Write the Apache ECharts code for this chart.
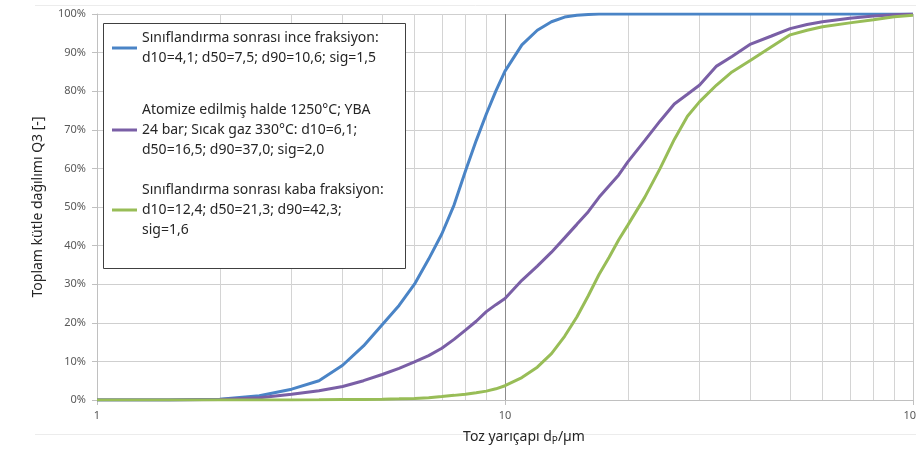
<!DOCTYPE html>
<html><head><meta charset="utf-8">
<script src="https://cdn.jsdelivr.net/npm/echarts@6/dist/echarts.min.js"></script>
<style>html,body{margin:0;padding:0;background:#fff}#c{width:916px;height:450px}</style>
</head><body><div id="c"></div>
<script>
const sizes = [1,1.5,2,2.5,3,3.5,4,4.5,5,5.5,6,6.5,7,7.5,8,8.5,9,9.5,10,11,12,13,14,15,16,17,18,19,20,22,24,26,28,30,33,36,40,45,50,55,60,70,80,90,100];
const fine = [0,0,0.2,1.1,2.8,5.0,9.0,14,19.5,24.5, 30,36.5,43,50.5,59.3,67.2,74.1,80.1,85.2, 92,95.8,98,99.2,99.7,99.9,100,100,100,100, 100,100,100,100,100, 100,100,100,100,100,100,100, 100,100,100,100];
const atomized = [0,0,0.1,0.6,1.5,2.4,3.5,5,6.6,8.2, 9.9,11.5,13.4,15.7,18.1,20.4,22.9,24.7,26.3, 31,34.7,38.3,42,45.5,48.8,52.5,55.5,58.3,61.7, 67.2,72.3,76.7,79.2,81.6, 86.5,89,92.2,94.3,96.2,97.3,98, 98.9,99.5,99.8,100];
const coarse = [0,0,0,0,0,0.05,0.1,0.15,0.2,0.3, 0.4,0.6,0.9,1.2,1.5,1.9,2.3,2.9,3.7, 5.8,8.5,12,16.5,21.5,27,32.5,37,41.5,45.3, 52.5,60,67.5,73.5,77.3, 81.6,85,88,91.5,94.6,95.8,96.7, 97.7,98.5,99.3,99.7];
const minorX = [2,3,4,5,6,7,8,9,20,30,40,50,60,70,80,90];
const yTicks = [0,10,20,30,40,50,60,70,80,90,100];
const names = [
  'Sınıflandırma sonrası ince fraksiyon:\nd10=4,1; d50=7,5; d90=10,6; sig=1,5',
  'Atomize edilmiş halde 1250°C; YBA\n24 bar; Sıcak gaz 330°C: d10=6,1;\nd50=16,5; d90=37,0; sig=2,0',
  'Sınıflandırma sonrası kaba fraksiyon:\nd10=12,4; d50=21,3; d90=42,3;\nsig=1,6'
];
const colors = ['#4a84c6','#7a5fa6','#98bd57'];
const FONT = 'Noto Sans';

const pairs = arr => sizes.map((x,i)=>[x, arr[i]]);
function legendFor(i, top, padTop){
  return {
    data:[names[i]], left:112, top:top, padding:0, orient:'vertical', z:120,
    icon:'rect', itemWidth:25, itemHeight:3, itemGap:0, selectedMode:true,
    textStyle:{fontFamily:FONT, fontSize:14, lineHeight:20, color:'#262626', padding:[padTop,0,0,0]}
  };
}
const chart = echarts.init(document.getElementById('c'), null, {renderer:'canvas'});
chart.setOption({
  animation:false,
  backgroundColor:'#fff',
  grid:{left:97, right:3, top:14, bottom:50, containLabel:false, outerBoundsMode:'none'},
  legend:[legendFor(0,18,20), legendFor(1,80,40), legendFor(2,169,22)],
  graphic:[
    {type:'line', shape:{x1:35,y1:5.5,x2:916,y2:5.5}, style:{stroke:'#ececec',lineWidth:1}, z:0, silent:true},
    {type:'line', shape:{x1:35,y1:434.5,x2:916,y2:434.5}, style:{stroke:'#ececec',lineWidth:1}, z:0, silent:true},
    {type:'rect', shape:{x:103.5,y:23.5,width:302,height:245}, style:{fill:'#fff',stroke:'#404040',lineWidth:1}, z:100, silent:true}
  ],
  xAxis:{
    type:'log', logBase:10, min:1, max:100,
    name:'Toz yarıçapı d{sub|P}/µm', nameLocation:'middle', nameGap:28,
    nameTextStyle:{fontFamily:FONT, fontSize:14, color:'#262626', padding:[0,0,0,38],
      rich:{sub:{fontFamily:FONT, fontSize:10, color:'#262626', verticalAlign:'bottom', padding:[8,0,0,0]}}},
    axisLine:{show:true, lineStyle:{color:'#c0c0c0', width:1}},
    axisTick:{show:true, length:5, lineStyle:{color:'#c0c0c0'}},
    axisLabel:{fontFamily:FONT, fontSize:11, color:'#595959', margin:10},
    splitLine:{show:true, lineStyle:{color:['#c8c8c8','#8c8c8c','#c8c8c8'], width:1}}
  },
  yAxis:{
    type:'value', min:0, max:100, interval:10,
    name:'Toplam kütle dağılımı Q3 [-]', nameLocation:'middle', nameGap:52,
    nameTextStyle:{fontFamily:FONT, fontSize:14, color:'#262626'},
    axisLine:{show:true, lineStyle:{color:'#c0c0c0', width:1}},
    axisTick:{show:true, length:5, lineStyle:{color:'#c0c0c0'}},
    axisLabel:{fontFamily:FONT, fontSize:11, color:'#595959', margin:11, formatter: v => yTicks.includes(v) ? v + '%' : ''},
    splitLine:{show:true, lineStyle:{color:'#cfcfcf', width:1}}
  },
  series:[
    {type:'line', name:'_minor', data:[], z:1, silent:true, legendHoverLink:false,
      markLine:{silent:true, z:1, symbol:['none','none'], label:{show:false},
        lineStyle:{color:'#d4d4d4', width:1, type:'solid'},
        emphasis:{disabled:true},
        data: minorX.map(v=>({xAxis:v}))}},
    {type:'line', name:names[0], data:pairs(fine), showSymbol:false, smooth:false, z:5, lineStyle:{width:3, color:colors[0]}, itemStyle:{color:colors[0]}},
    {type:'line', name:names[1], data:pairs(atomized), showSymbol:false, smooth:false, z:5, lineStyle:{width:3, color:colors[1]}, itemStyle:{color:colors[1]}},
    {type:'line', name:names[2], data:pairs(coarse), showSymbol:false, smooth:false, z:5, lineStyle:{width:3, color:colors[2]}, itemStyle:{color:colors[2]}}
  ]
});
</script></body></html>
